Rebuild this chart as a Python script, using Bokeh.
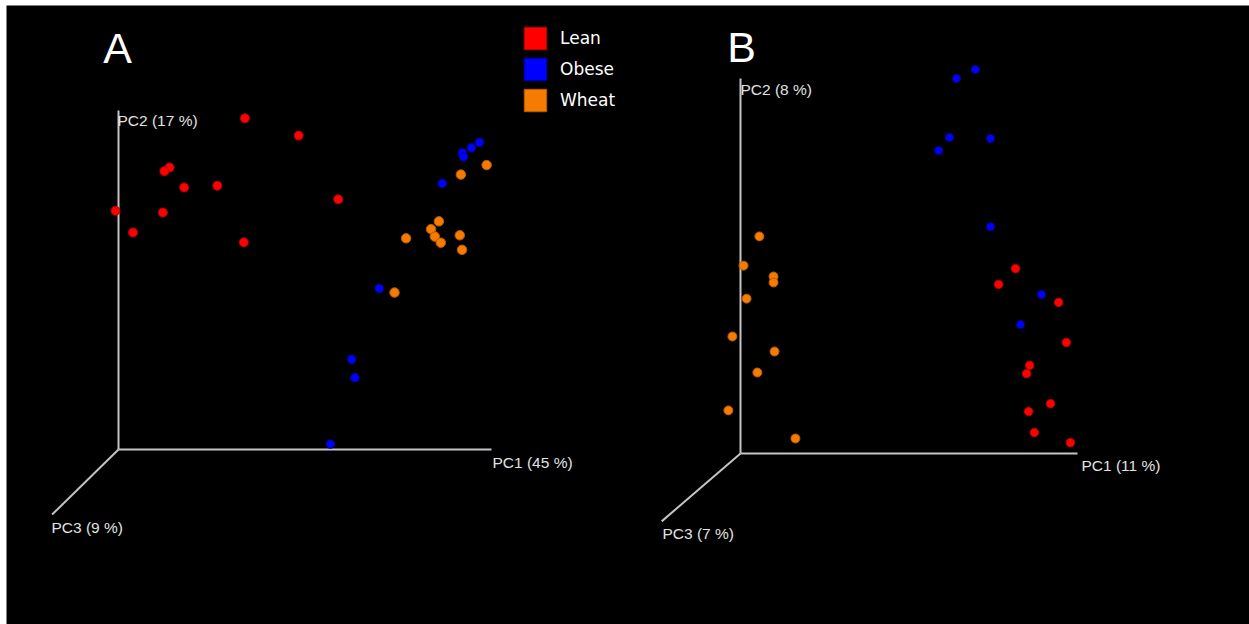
import numpy as np
from bokeh.plotting import figure
from bokeh.models import Range1d, Label, Legend, LegendItem
from bokeh.embed import file_html
from bokeh.resources import INLINE

# ---------------- data (projected scores, in units of the drawn PC1 / PC2 axis length) ----------
groups = ["Lean", "Obese", "Wheat"]
colors = ["#ff0000", "#0000ff", "#f77b00"]
edge_colors = ["#b80000", "#0000a8", "#b85a00"]

# Panel A
a_lean_x = [0.339, 0.483, 0.137, 0.123, 0.176, 0.265, 0.589, -0.008, 0.119, 0.039, 0.336]
a_lean_y = [0.977, 0.926, 0.832, 0.821, 0.773, 0.778, 0.738, 0.704, 0.699, 0.640, 0.611]
a_obese_x = [0.968, 0.946, 0.922, 0.925, 0.868, 0.699, 0.625, 0.634, 0.568]
a_obese_y = [0.906, 0.890, 0.875, 0.863, 0.785, 0.475, 0.266, 0.212, 0.016]
a_wheat_x = [0.987, 0.918, 0.859, 0.838, 0.848, 0.864, 0.771, 0.915, 0.921, 0.740]
a_wheat_y = [0.839, 0.811, 0.673, 0.650, 0.628, 0.610, 0.623, 0.632, 0.589, 0.463]
a_axis_labels = ["PC1 (45 %)", "PC2 (17 %)", "PC3 (9 %)"]
a_pc3_dir = [-0.178, -0.192]

# Panel B
b_lean_x = [0.816, 0.766, 0.944, 0.967, 0.858, 0.849, 0.920, 0.855, 0.872, 0.979]
b_lean_y = [0.493, 0.451, 0.403, 0.296, 0.235, 0.213, 0.133, 0.112, 0.056, 0.029]
b_obese_x = [0.641, 0.697, 0.620, 0.742, 0.588, 0.742, 0.893, 0.831]
b_obese_y = [1.000, 1.024, 0.843, 0.840, 0.808, 0.605, 0.424, 0.344]
b_wheat_x = [0.056, 0.009, 0.098, 0.098, 0.018, -0.024, 0.101, 0.050, -0.036, 0.163]
b_wheat_y = [0.579, 0.501, 0.472, 0.456, 0.413, 0.312, 0.272, 0.216, 0.115, 0.040]
b_axis_labels = ["PC1 (11 %)", "PC2 (8 %)", "PC3 (7 %)"]
b_pc3_dir = [-0.234, -0.181]

# ---------------- layout constants (page pixels) ----------------
W, H = 1249, 624
FX0, FY0 = 6, 5          # black frame starts here (white strip left / top)
AXIS_COLOR = "#c4c4c4"
TEXT_COLOR = "#e2e2e2"

p = figure(width=W, height=H, output_backend="svg", toolbar_location=None,
           x_axis_type=None, y_axis_type=None,
           min_border_left=FX0, min_border_top=FY0, min_border_right=0, min_border_bottom=0,
           background_fill_color="black", border_fill_color="white",
           outline_line_color=None)
p.grid.visible = False

panels = {
    "A": dict(origin=(118, 449), lx=373, ly=339,
              series=[(a_lean_x, a_lean_y), (a_obese_x, a_obese_y), (a_wheat_x, a_wheat_y)],
              labels=a_axis_labels, pc3=a_pc3_dir,
              label_pos=[(492, 462), (117, 120), (51, 527)], letter_pos=(117, 47),
              sizes=[9, 8.5, 9.5]),
    "B": dict(origin=(740, 453), lx=337, ly=375,
              series=[(b_lean_x, b_lean_y), (b_obese_x, b_obese_y), (b_wheat_x, b_wheat_y)],
              labels=b_axis_labels, pc3=b_pc3_dir,
              label_pos=[(1081, 465), (740, 89), (662, 533)], letter_pos=(741, 46),
              sizes=[8.5, 8, 9]),
}

for name, cfg in panels.items():
    ox, oy = cfg["origin"]
    lx, ly = cfg["lx"], cfg["ly"]

    def fx(px):
        return (px - ox) / lx

    def fy(py):
        return (oy - py) / ly

    xr = Range1d(fx(FX0), fx(W))
    yr = Range1d(fy(H), fy(FY0))
    if name == "A":
        p.x_range = xr
        p.y_range = yr
        rk = dict()
    else:
        p.extra_x_ranges = {"B": xr}
        p.extra_y_ranges = {"B": yr}
        rk = dict(x_range_name="B", y_range_name="B")

    pc3 = cfg["pc3"]
    p.segment(x0=[0, 0, 0], y0=[0, 0, 0], x1=[1, 0, pc3[0]], y1=[0, 1, pc3[1]],
              line_color=AXIS_COLOR, line_width=2, **rk)

    for (xs, ys), c, ec, s in zip(cfg["series"], colors, edge_colors, cfg["sizes"]):
        p.scatter(xs, ys, size=s, fill_color=c, line_color=ec, line_width=1, **rk)

    for text, (px, py) in zip(cfg["labels"], cfg["label_pos"]):
        p.add_layout(Label(x=fx(px), y=fy(py), text=text, text_color=TEXT_COLOR,
                           text_font="Liberation Sans", text_font_size="15.5px",
                           text_align="left", text_baseline="middle", **rk))

    lxp, lyp = cfg["letter_pos"]
    p.add_layout(Label(x=fx(lxp), y=fy(lyp), text=name, text_color="white",
                       text_font="Liberation Sans", text_font_size="43px",
                       text_align="center", text_baseline="middle", **rk))

# legend with square swatches
items = []
for g, c, ec in zip(groups, colors, edge_colors):
    q = p.quad(left=np.array([np.nan]), right=np.array([np.nan]),
               top=np.array([np.nan]), bottom=np.array([np.nan]),
               fill_color=c, line_color=ec)
    items.append(LegendItem(label=g, renderers=[q]))

frame_h = H - FY0
legend = Legend(items=items, location=(521 - FX0, frame_h - (24 - FY0) - 90),
                glyph_width=28, glyph_height=28,
                spacing=3, padding=0, margin=0, label_standoff=11, label_height=28,
                label_text_font="DejaVu Sans", label_text_font_size="17px",
                label_text_color="white", background_fill_alpha=0,
                border_line_color=None)
p.add_layout(legend)

open("out.html", "w").write(file_html(p, INLINE))
